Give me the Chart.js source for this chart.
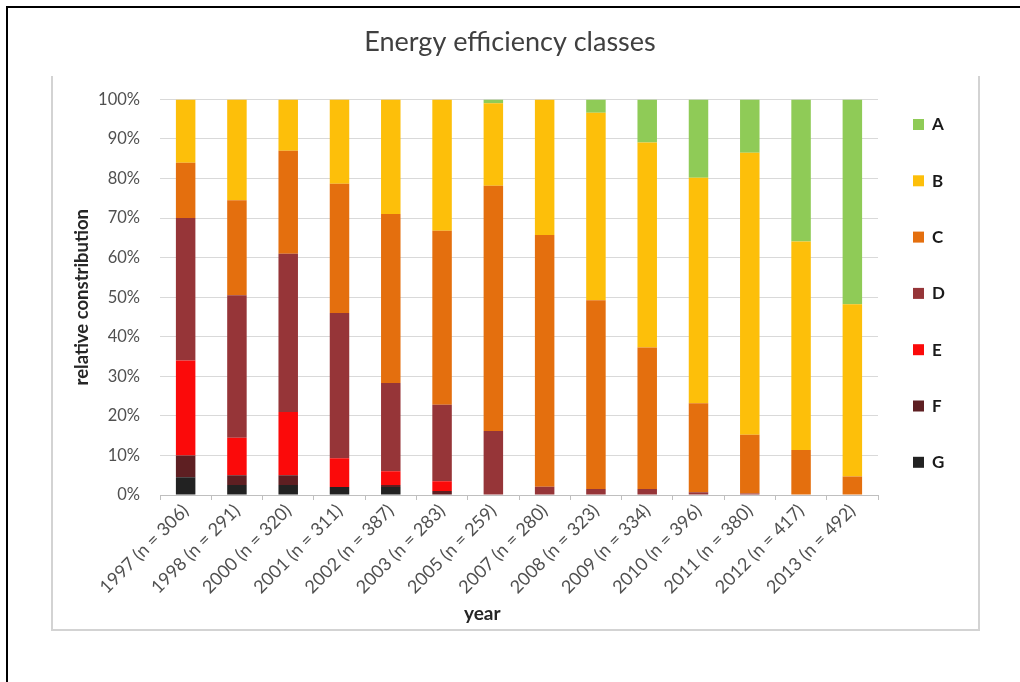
<!DOCTYPE html>
<html>
<head>
<meta charset="utf-8">
<script src="https://cdn.jsdelivr.net/npm/chart.js@4"></script>
<style>
  html, body { margin: 0; padding: 0; background: #fff; }
  #wrap { position: relative; width: 1020px; height: 682px; overflow: hidden; }
  #frame { position: absolute; left: 6px; top: 6px; width: 1100px; height: 800px;
           border-top: 2px solid #000; border-left: 2px solid #000; }
  #box { position: absolute; left: 51px; top: 76px; width: 925px; height: 553px;
         border: 2px solid #d3d3d3; border-top: none; }
  canvas { position: absolute; left: 0; top: 0; }
</style>
</head>
<body>
<div id="wrap">
  <div id="frame"></div>
  <div id="box"></div>
  <canvas id="chart" width="1020" height="682"></canvas>
</div>
<script>
// survey years with sample sizes
var years = ['1997 (n = 306)', '1998 (n = 291)', '2000 (n = 320)', '2001 (n = 311)',
             '2002 (n = 387)', '2003 (n = 283)', '2005 (n = 259)', '2007 (n = 280)',
             '2008 (n = 323)', '2009 (n = 334)', '2010 (n = 396)', '2011 (n = 380)',
             '2012 (n = 417)', '2013 (n = 492)'];

// share of each class in %, bottom of the stack first
var classG = [4.5, 2.5, 2.5, 2, 2, 0, 0, 0, 0, 0, 0, 0, 0, 0];
var classF = [5.5, 2.5, 2.5, 0, 0.5, 1, 0, 0, 0, 0, 0, 0, 0, 0];
var classE = [24, 9.5, 16, 7.3, 3.5, 2.5, 0, 0, 0, 0, 0, 0, 0, 0];
var classD = [36, 36, 40, 36.7, 22.3, 19.3, 16.2, 2.1, 1.5, 1.5, 0.7, 0.4, 0, 0];
var classC = [14, 24, 26, 32.7, 42.7, 44, 62, 63.6, 47.7, 35.8, 22.5, 14.8, 11.4, 4.7];
var classB = [16, 25.5, 13, 21.3, 29, 33.2, 20.8, 34.3, 47.4, 51.8, 57, 71.3, 52.7, 43.5];
var classA = [0, 0, 0, 0, 0, 0, 1, 0, 3.4, 10.9, 19.8, 13.5, 35.9, 51.8];

var yTicks = [0, 10, 20, 30, 40, 50, 60, 70, 80, 90, 100];

var FONT = 'Lato, "Open Sans", sans-serif';

function ds(label, data, color) {
    return {
        label: label,
        data: data,
        backgroundColor: color,
        borderWidth: 0,
        categoryPercentage: 1,
        barPercentage: 0.38
    };
}

var datasets = [
    ds('G', classG, '#222222'),
    ds('F', classF, '#5e1f22'),
    ds('E', classE, '#fb0a0a'),
    ds('D', classD, '#963538'),
    ds('C', classC, '#e46f0e'),
    ds('B', classB, '#fdbf0a'),
    ds('A', classA, '#8fcb57')
];

// legend drawn at the right, A on top
var sideLegend = {
    id: 'sideLegend',
    afterDraw: function(chart) {
        var ctx = chart.ctx;
        var items = chart.data.datasets.slice().reverse();
        var x0 = chart.chartArea.right + 35;
        ctx.save();
        ctx.font = 'bold 17px ' + FONT;
        ctx.textBaseline = 'middle';
        ctx.textAlign = 'left';
        for (var i = 0; i < items.length; i++) {
            var y = 124 + i * 56.3;
            ctx.fillStyle = items[i].backgroundColor;
            ctx.fillRect(x0, y - 5, 11, 11);
            ctx.fillStyle = '#1a1a1a';
            ctx.fillText(items[i].label, x0 + 19, y + 1);
        }
        ctx.restore();
    }
};

new Chart(document.getElementById('chart'), {
    type: 'bar',
    data: { labels: years, datasets: datasets },
    plugins: [sideLegend],
    options: {
        responsive: false,
        animation: false,
        layout: { padding: 0 },
        plugins: {
            legend: { display: false },
            tooltip: { enabled: false },
            title: {
                display: true,
                text: 'Energy efficiency classes',
                color: '#404040',
                font: { family: FONT, size: 27, weight: 'normal' },
                padding: { top: 26, bottom: 41 }
            }
        },
        scales: {
            x: {
                stacked: true,
                afterFit: function(scale) { scale.height = 187; },
                grid: { offset: true, drawOnChartArea: false, tickLength: 5, color: '#bfbfbf' },
                border: { color: '#bfbfbf' },
                ticks: {
                    autoSkip: false, maxRotation: 45, minRotation: 45,
                    color: '#505050', font: { family: FONT, size: 18 }, padding: 0
                },
                title: {
                    display: true,
                    // trailing spaces move the title left, as in the original
                    text: 'year' + '\u00a0'.repeat(16),
                    color: '#262626',
                    font: { family: FONT, size: 19, weight: 'bold' },
                    padding: { top: 0, bottom: 57 }
                }
            },
            y: {
                stacked: true,
                min: 0, max: 100,
                afterFit: function(scale) { scale.width = 160; },
                afterBuildTicks: function(scale) {
                    scale.ticks = yTicks.map(function(v) { return { value: v }; });
                },
                grid: { color: '#d9d9d9', drawTicks: false },
                border: { display: false },
                ticks: {
                    color: '#505050', font: { family: FONT, size: 16.5 }, padding: 20,
                    callback: function(v) { return v + '%'; }
                },
                title: {
                    display: true, text: 'relative constribution', color: '#262626',
                    font: { family: FONT, size: 18.5, weight: 'bold' },
                    padding: { top: 71, bottom: 0 }
                }
            },
            // empty right-hand axis that keeps room for the legend
            yRight: {
                position: 'right',
                afterFit: function(scale) { scale.width = 142; },
                grid: { display: false },
                border: { display: false },
                ticks: { display: false }
            }
        }
    }
});
</script>
</body>
</html>
